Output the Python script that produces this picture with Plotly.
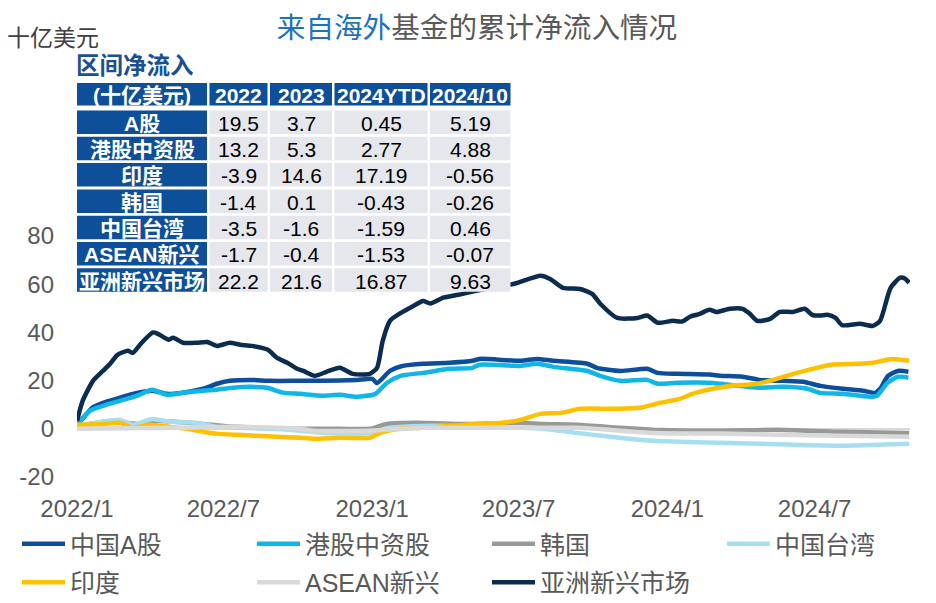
import plotly.graph_objects as go

# ---------------- data (十亿美元, cumulative net inflow) ----------------
asia_dates = ["2022-01-01","2022-01-08","2022-01-21","2022-02-02","2022-02-11","2022-02-20","2022-03-05","2022-03-11",
              "2022-03-22","2022-04-05","2022-04-11","2022-04-24","2022-04-30","2022-05-12","2022-05-29","2022-06-11",
              "2022-06-23","2022-07-09","2022-07-22","2022-08-05","2022-08-25","2022-09-05","2022-09-18","2022-09-30",
              "2022-10-08","2022-10-22","2022-11-06","2022-11-22","2022-12-08","2022-12-29","2023-01-07","2023-01-14",
              "2023-01-23","2023-02-05","2023-02-21","2023-03-05","2023-03-14","2023-03-30","2023-04-23","2023-05-20",
              "2023-06-26","2023-07-28","2023-08-09","2023-08-25","2023-09-15","2023-09-30","2023-10-10","2023-10-31",
              "2023-11-25","2023-12-07","2023-12-20","2024-01-08","2024-01-19","2024-01-29","2024-02-10","2024-02-22",
              "2024-03-02","2024-03-18","2024-04-03","2024-04-12","2024-04-21","2024-05-07","2024-05-19","2024-06-04",
              "2024-06-19","2024-06-28","2024-07-08","2024-07-17","2024-07-27","2024-08-04","2024-08-26","2024-09-11",
              "2024-09-20","2024-10-03","2024-10-15","2024-10-21","2024-10-26"]
asia_vals = [3.3, 11.6, 20, 24, 27, 30.7, 32.4, 31.5,
             35.7, 40, 39.4, 37, 37.8, 35.7, 35.7, 36,
             34.4, 35.7, 34.9, 34.4, 32.8, 29.5, 27.4, 24.9,
             24, 22, 23.7, 25.3, 22.8, 22.8, 25.3, 36.5,
             44.8, 48, 51, 53, 52, 54.4, 56, 58,
             60.2, 63.5, 62.2, 58.5, 58, 56, 51.9, 46,
             46, 47, 44, 44.8, 44.5, 46.5, 47.7, 49.4,
             48.5, 49.8, 49.8, 47.7, 44.8, 45.6, 48.5, 48.5,
             49.8, 47.3, 47, 47.3, 46, 43, 43.6, 42.7,
             44.8, 58.5, 62.7, 62.3, 60.6]

ashare_dates = ["2022-01-01","2022-01-21","2022-02-02","2022-02-23","2022-03-11","2022-04-05","2022-04-22","2022-05-12",
                "2022-06-06","2022-06-23","2022-07-09","2022-08-03","2022-08-28","2022-10-04","2022-11-01","2022-12-13",
                "2023-01-01","2023-01-07","2023-01-23","2023-02-08","2023-03-05","2023-04-07","2023-05-05","2023-05-14",
                "2023-07-03","2023-07-24","2023-08-13","2023-09-24","2023-10-06","2023-11-04","2023-12-07","2023-12-20",
                "2024-01-13","2024-02-22","2024-03-06","2024-04-03","2024-04-24","2024-05-23","2024-06-17","2024-07-08",
                "2024-08-05","2024-08-30","2024-09-14","2024-09-20","2024-09-30","2024-10-12","2024-10-25"]
ashare_vals = [1.5, 9, 10.8, 12.9, 14.5, 15.8, 14.5, 15,
               16.6, 18.7, 19.9, 20.3, 19.9, 19.9, 19.9, 20.3,
               20.7, 19, 24, 26.1, 27, 27.4, 28.2, 29,
               28.2, 29, 28.2, 27, 25.3, 24, 24.9, 23.2,
               22.8, 22.5, 22, 21.6, 20.3, 19.9, 19.5, 17.8,
               16.6, 15.8, 14.9, 16.6, 22, 24, 23.7]

hk_dates = ["2022-01-01","2022-01-17","2022-02-02","2022-02-23","2022-03-16","2022-04-04","2022-04-22","2022-05-12",
            "2022-06-06","2022-06-23","2022-07-13","2022-08-03","2022-08-24","2022-09-13","2022-10-04","2022-11-01",
            "2022-11-22","2022-12-13","2023-01-05","2023-01-19","2023-02-05","2023-03-05","2023-04-07","2023-05-05",
            "2023-05-14","2023-07-03","2023-07-24","2023-08-13","2023-09-24","2023-10-10","2023-11-04","2023-12-07",
            "2023-12-20","2024-01-13","2024-02-22","2024-03-06","2024-04-24","2024-05-23","2024-06-22","2024-07-08",
            "2024-08-05","2024-09-07","2024-09-16","2024-09-29","2024-10-12","2024-10-25"]
hk_vals = [1.5, 7.5, 9.5, 11.6, 13.7, 16.2, 14.1, 15,
           15.8, 16.2, 17, 17.4, 17, 15, 14.5, 13.7,
           14.1, 13.3, 14.5, 19, 22, 23.2, 24.9, 25.3,
           26.6, 26.1, 27, 25.7, 24, 22, 19.9, 20.3,
           18.7, 19.1, 19.1, 18.7, 17, 17.4, 16.6, 14.9,
           14.5, 13.3, 13.7, 19, 21.6, 21.2]

korea_dates = ["2022-01-01","2022-02-14","2022-03-16","2022-04-05","2022-06-06","2022-07-18","2022-10-04","2022-11-22",
               "2022-12-29","2023-01-19","2023-02-26","2023-04-16","2023-07-03","2023-07-31","2023-09-12","2023-11-04",
               "2023-12-15","2024-01-30","2024-03-06","2024-05-15","2024-07-29","2024-10-26"]
korea_vals = [1, 3.3, 2, 3.3, 2, 0.8, 0, 0,
              0, 2, 2.5, 2, 2.5, 2, 1.7, 0.4,
              -0.4, -0.8, -0.8, -0.4, -1.2, -1.7]

taiwan_dates = ["2022-01-01","2022-02-23","2022-03-11","2022-04-04","2022-04-26","2022-05-29","2022-06-23","2022-08-28",
                "2022-10-04","2022-11-01","2022-12-29","2023-01-23","2023-03-05","2023-07-03","2023-07-31","2023-09-12",
                "2023-10-22","2023-12-15","2024-03-06","2024-04-24","2024-07-29","2024-09-16","2024-10-26"]
taiwan_vals = [1, 3.7, 1.7, 4.1, 2.9, 2.5, 0.8, 0,
               -0.8, -1.7, -1.7, 0.4, 1.2, 0.4, 0, -1.7,
               -3.3, -5, -5.8, -6.2, -7, -6.6, -6.2]

india_dates = ["2022-01-01","2022-02-02","2022-02-23","2022-03-11","2022-04-01","2022-04-26","2022-05-17","2022-06-06",
               "2022-06-23","2022-07-18","2022-08-12","2022-09-05","2022-10-04","2022-10-20","2022-11-22","2022-12-29",
               "2023-01-11","2023-02-05","2023-03-05","2023-04-07","2023-05-10","2023-06-11","2023-07-03","2023-07-28",
               "2023-08-22","2023-09-15","2023-10-31","2023-11-28","2023-12-23","2024-01-16","2024-02-01","2024-02-26",
               "2024-03-18","2024-04-21","2024-05-15","2024-06-09","2024-07-04","2024-07-21","2024-08-22","2024-09-11",
               "2024-10-05","2024-10-26"]
india_vals = [1.7, 2, 2.5, 0.4, 1.7, 0.8, 0, -1.2,
              -2, -2.5, -2.9, -3.3, -3.7, -4.1, -3.7, -3.7,
              -1.7, 0, 0.4, 1.2, 2, 2.5, 3.7, 6.2,
              6.6, 8.3, 8.3, 8.7, 10.8, 12.4, 14.5, 16.6,
              17.8, 18.7, 20.7, 23.2, 25.3, 26.6, 27, 27.4,
              29, 28.2]

asean_dates = ["2022-01-01","2022-04-26","2022-07-18","2022-10-04","2022-10-20","2022-12-29","2023-03-05","2023-07-03",
               "2023-09-12","2023-12-15","2024-03-06","2024-07-29","2024-10-26"]
asean_vals = [0, 0.4, 0.8, 0, -0.8, -0.8, 0.4, 0.4,
              0.4, -1.7, -2, -2.9, -3.3]

# ---------------- table data ----------------
table_header = ["(十亿美元)", "2022", "2023", "2024YTD", "2024/10"]
table_rows = ["A股", "港股中资股", "印度", "韩国", "中国台湾", "ASEAN新兴", "亚洲新兴市场"]
col_2022 = [19.5, 13.2, -3.9, -1.4, -3.5, -1.7, 22.2]
col_2023 = [3.7, 5.3, 14.6, 0.1, -1.6, -0.4, 21.6]
col_2024ytd = [0.45, 2.77, 17.19, -0.43, -1.59, -1.53, 16.87]
col_202410 = [5.19, 4.88, -0.56, -0.26, 0.46, -0.07, 9.63]

# ---------------- axis ticks ----------------
tick_dates = ["2022-01-01", "2022-07-01", "2023-01-01", "2023-07-01", "2024-01-01", "2024-07-01"]
tick_labels = ["2022/1", "2022/7", "2023/1", "2023/7", "2024/1", "2024/7"]
y_ticks = [-20, 0, 20, 40, 60, 80]
y_tick_labels = ["-20", "0", "20", "40", "60", "80"]

FONT = "Liberation Sans, Arial, Noto Sans CJK SC, sans-serif"
TXT = "#595959"
TBL_BLUE = "#0d4f99"
TBL_GRAY = "#e6e7ec"

series = [
    ("中国A股", ashare_dates, ashare_vals, "#0c4e9b", "legend"),
    ("港股中资股", hk_dates, hk_vals, "#0fb6e6", "legend2"),
    ("韩国", korea_dates, korea_vals, "#999999", "legend3"),
    ("中国台湾", taiwan_dates, taiwan_vals, "#a7dff2", "legend4"),
    ("印度", india_dates, india_vals, "#ffc000", "legend"),
    ("ASEAN新兴", asean_dates, asean_vals, "#d9d9d9", "legend2"),
    ("亚洲新兴市场", asia_dates, asia_vals, "#0b2c4f", "legend3"),
]

fig = go.Figure()
for name, d, v, c, lg in series:
    fig.add_trace(go.Scatter(x=d, y=v, name=name, mode="lines", legendgroup=name,
                             line=dict(color=c, width=4.5, shape="spline", smoothing=0.6),
                             legend=lg))

# ---------------- layout helpers (pixel -> paper) ----------------
W_PLOT, H_PLOT, L, T = 833, 395, 77, 82
def px_x(p):
    return (p - L) / W_PLOT
def px_y(p):
    return (T + H_PLOT - p) / H_PLOT

# ---------------- table drawn with shapes + annotations ----------------
col_edges = [77, 209.5, 270, 334.5, 430, 513]
GAP = 2.5
row_boxes = [(83, 105.5)] + [(110.5 + 26.3 * i, 110.5 + 26.3 * i + 23.5) for i in range(len(table_rows))]
columns = [table_rows, col_2022, col_2023, col_2024ytd, col_202410]

shapes = []
annotations = []
for r, (top, bot) in enumerate(row_boxes):
    for c in range(len(columns)):
        x0, x1 = col_edges[c], col_edges[c + 1] - GAP
        is_blue = (r == 0) or (c == 0)
        shapes.append(dict(type="rect", xref="paper", yref="paper", layer="above",
                           x0=px_x(x0), x1=px_x(x1), y0=px_y(bot), y1=px_y(top),
                           fillcolor=TBL_BLUE if is_blue else TBL_GRAY, line=dict(width=0)))
        if r == 0:
            txt = "<b>%s</b>" % table_header[c]
        elif c == 0:
            txt = "<b>%s</b>" % columns[0][r - 1]
        else:
            txt = str(columns[c][r - 1])
        annotations.append(dict(text=txt, xref="paper", yref="paper", x=px_x((x0 + x1) / 2),
                                y=px_y((top + bot) / 2 + 1), xanchor="center", yanchor="middle",
                                showarrow=False,
                                font=dict(size=21, family=FONT, color="white" if is_blue else "black")))

annotations += [
    dict(text="十亿美元", xref="paper", yref="paper", x=px_x(5), y=px_y(38), xanchor="left", yanchor="middle",
         showarrow=False, font=dict(size=23, color="#404040", family=FONT)),
    dict(text="<b>区间净流入</b>", xref="paper", yref="paper", x=px_x(74), y=px_y(66), xanchor="left",
         yanchor="middle", showarrow=False, font=dict(size=23.5, color="#1b4f93", family=FONT)),
]

legend_common = dict(orientation="v", xref="container", yref="container", xanchor="left", yanchor="top",
                     font=dict(size=25, color=TXT, family=FONT), bgcolor="rgba(0,0,0,0)",
                     itemwidth=43, tracegroupgap=3)
leg_y = 1 - 521 / 603
fig.update_layout(
    width=936, height=603,
    margin=dict(l=L, r=26, t=T, b=126, autoexpand=False),
    paper_bgcolor="white", plot_bgcolor="white",
    font=dict(family=FONT, color=TXT),
    title=dict(text='<span style="color:#1a73c1">来自海外</span>基金的累计净流入情况',
               x=477 / 936, xanchor="center", y=1 - 28 / 603, yanchor="middle",
               font=dict(size=28.6, color=TXT, family=FONT)),
    xaxis=dict(type="date", domain=[0, 1], range=["2022-01-01", "2024-10-27"], tickvals=tick_dates,
               ticktext=tick_labels, showgrid=False, zeroline=False, showline=False, ticks="",
               tickfont=dict(size=24, color=TXT), ticklabelstandoff=15, automargin=False),
    yaxis=dict(domain=[0, px_y(236)], range=[-20, 80], tickvals=y_ticks, ticktext=y_tick_labels,
               showgrid=False, zeroline=True, zerolinecolor="#d9d9d9", zerolinewidth=2, showline=False,
               ticks="", tickfont=dict(size=24, color=TXT), ticklabelstandoff=22, automargin=False),
    legend=dict(x=17 / 936, y=leg_y, **legend_common),
    legend2=dict(x=252 / 936, y=leg_y, **legend_common),
    legend3=dict(x=487 / 936, y=leg_y, **legend_common),
    legend4=dict(x=722 / 936, y=leg_y, **legend_common),
    showlegend=True,
    shapes=shapes,
    annotations=annotations,
)

fig.write_html("out.html", config={"displayModeBar": False},
               post_script="document.body.style.margin='0px';")
